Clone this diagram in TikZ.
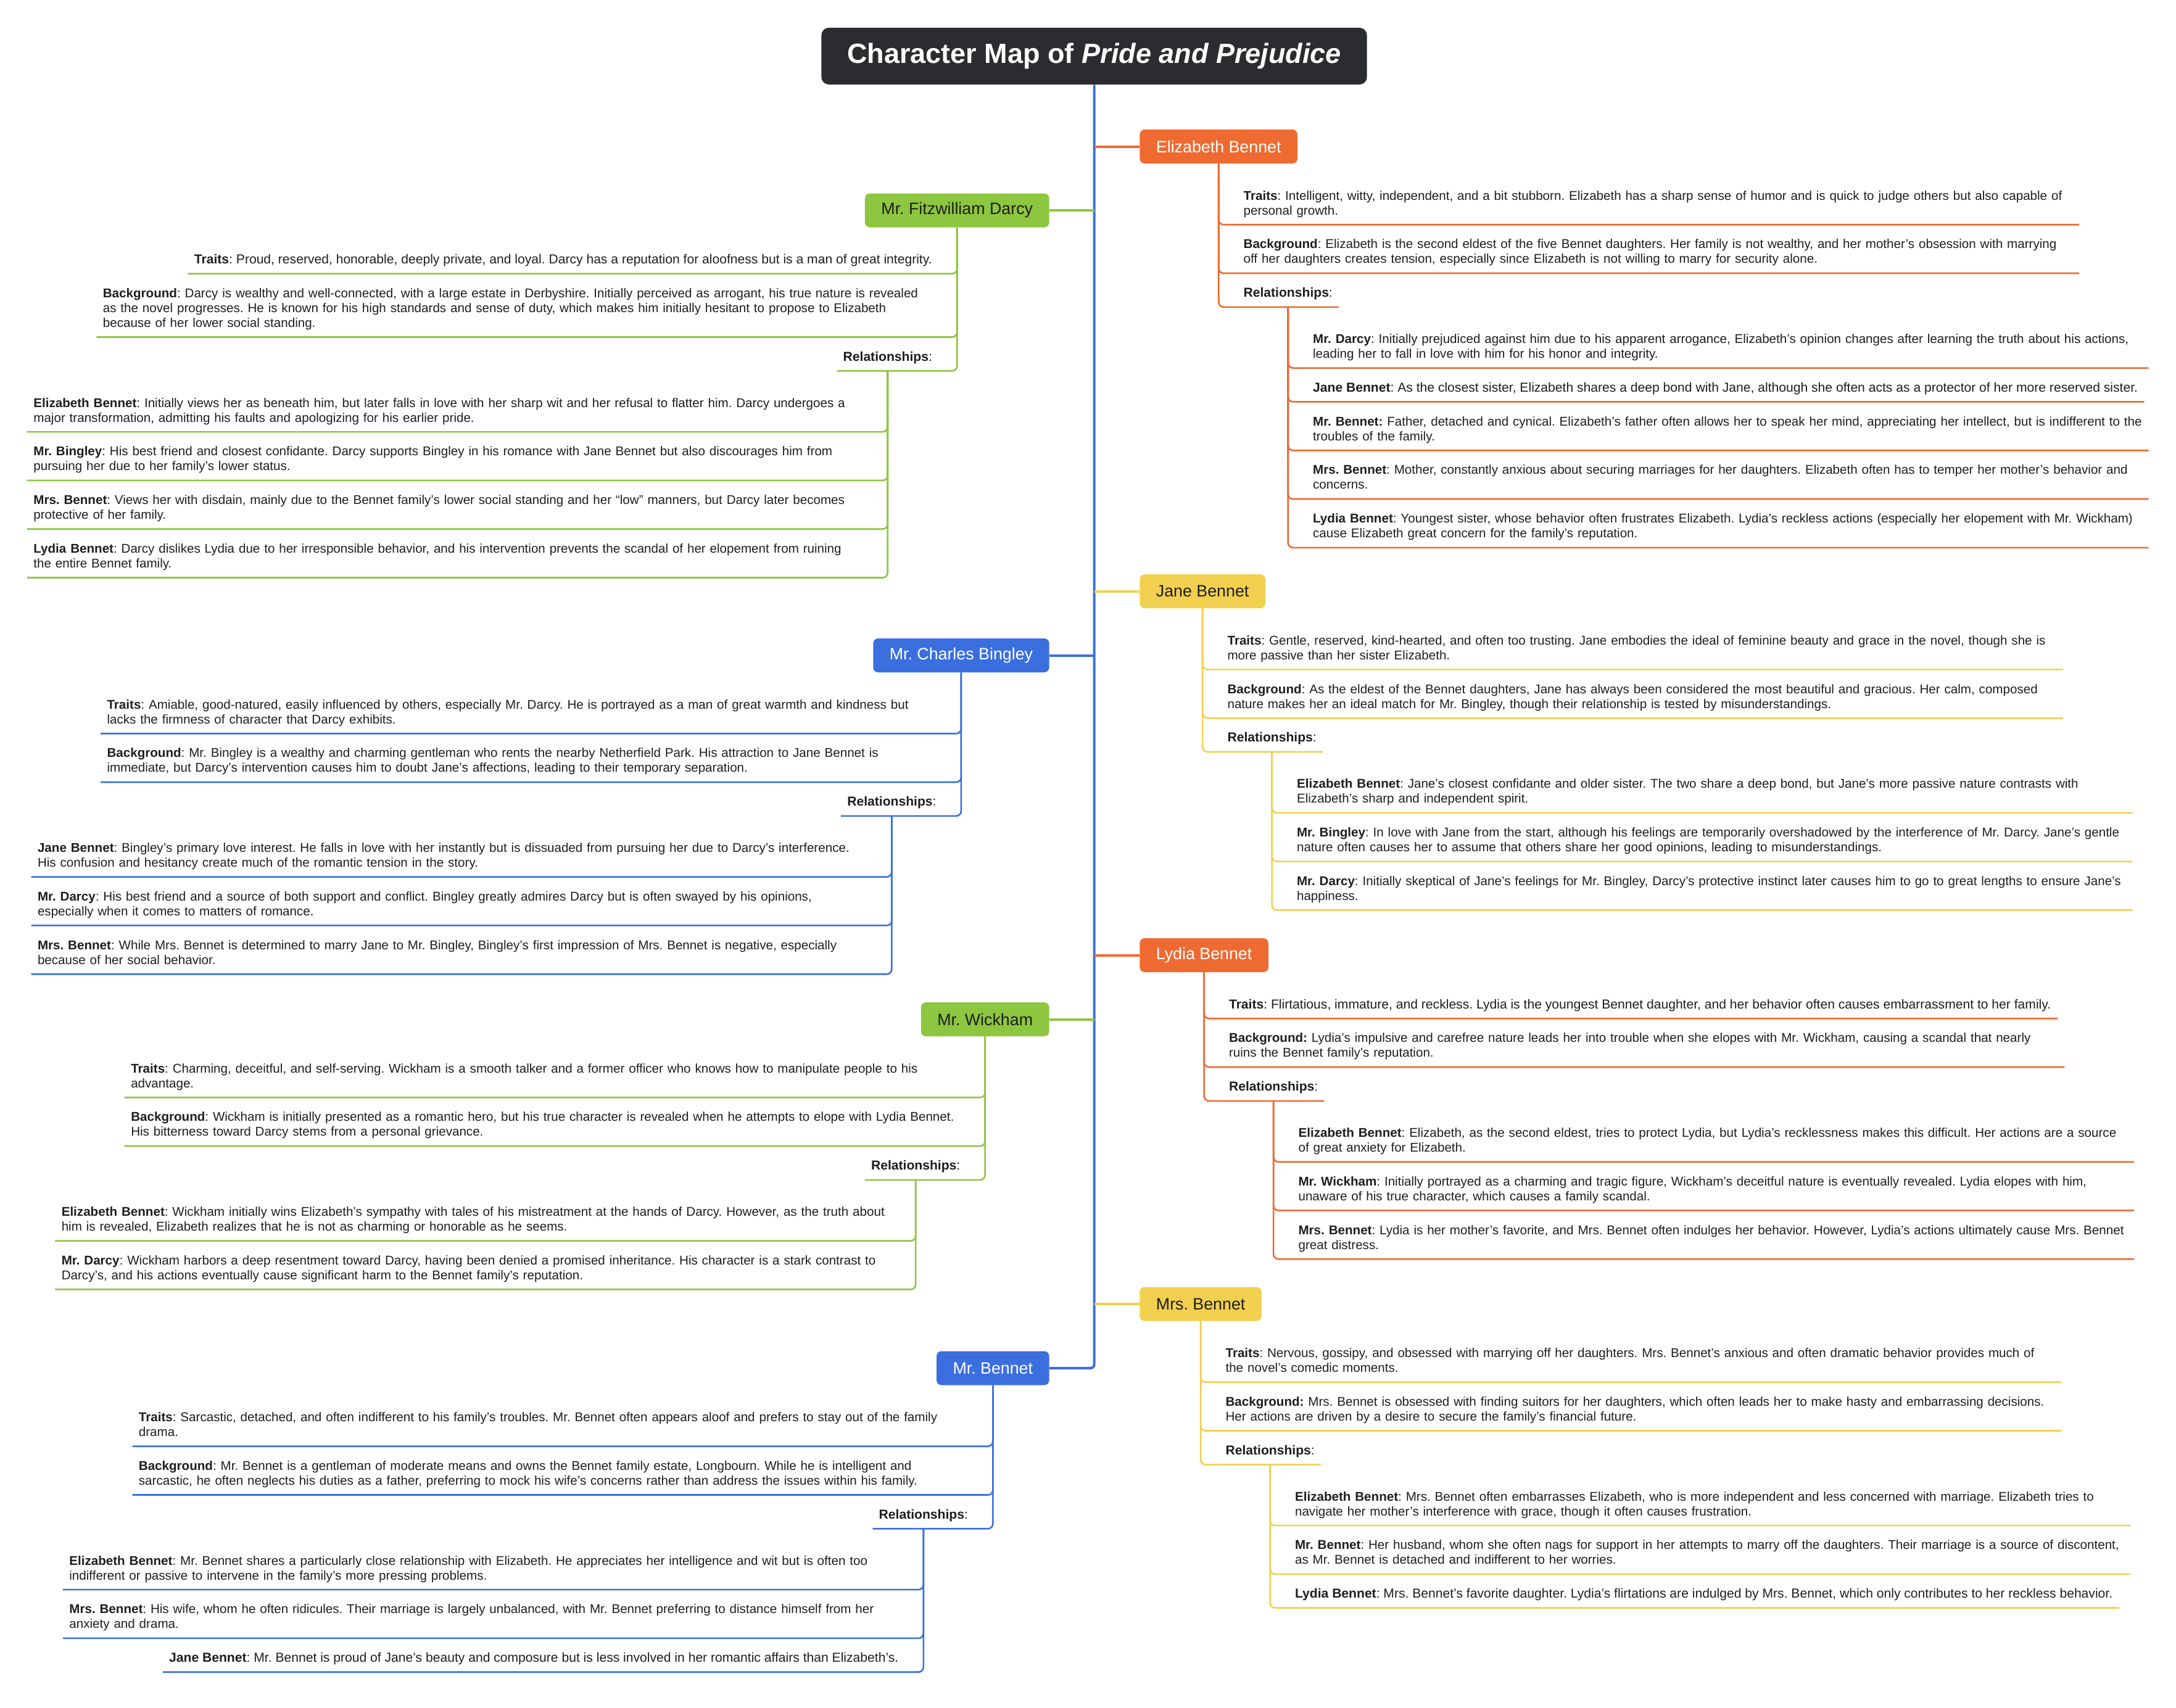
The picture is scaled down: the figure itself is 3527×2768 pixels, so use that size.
\documentclass[tikz,border=0pt]{standalone}
\usepackage{fontspec}
\setmainfont{Liberation Sans}
\usetikzlibrary{positioning}
\frenchspacing
\definecolor{cmTitle}{HTML}{2B2C30}
\definecolor{cmOrange}{HTML}{EE6A31}
\definecolor{cmYellow}{HTML}{F2D04F}
\definecolor{cmGreen}{HTML}{8DC63F}
\definecolor{cmBlue}{HTML}{3B6FE0}
\definecolor{cmText}{HTML}{1E1E1E}
\tikzset{
  charmap/.style={line join=round},
  maptitle/.style={fill=cmTitle, text=white, rounded corners=6pt, minimum height=46pt, inner xsep=21pt, font=\fontsize{22.5}{27}\selectfont\bfseries},
  person/.style={rounded corners=4pt, minimum height=27.5pt, inner xsep=13.25pt, inner ysep=0pt, text=cmText, font=\fontsize{13.4}{16}\selectfont},
  item/.style={inner xsep=5pt, inner ysep=4.25pt, text=cmText, font=\fontsize{10.55}{12}\selectfont,
    execute at begin node=\strut, execute at end node=\strut},
  wide/.style={item, text width=672pt, align=left, font=\fontsize{10.3}{12}\selectfont,
    execute at begin node={\rightskip=-12pt plus 1fil\relax\strut}},
  spine/.style={draw=cmBlue, line width=2pt, rounded corners=3pt},
  link/.style={line width=2pt},
  trunk/.style={line width=1.3pt, rounded corners=4pt},
}
\begin{document}
\begin{tikzpicture}[charmap, x=0.5pt, y=-0.5pt]
\fill[white] (0,0) rectangle (3527,2768);
\useasboundingbox (0,0) rectangle (3527,2768);

\node[maptitle] (title) at (1773.5,91) {Character Map of \textit{Pride and Prejudice}};

% personen rechts
\node[person, fill=cmOrange, text=white, anchor=west] (eliz)  at (1847,237.5) {Elizabeth Bennet};
\node[person, fill=cmYellow, anchor=west]             (jane)  at (1847,958.7) {Jane Bennet};
\node[person, fill=cmOrange, text=white, anchor=west] (lydia) at (1847,1548.5) {Lydia Bennet};
\node[person, fill=cmYellow, anchor=west]             (mrsb)  at (1847,2114) {Mrs. Bennet};
% personen links
\node[person, fill=cmGreen, anchor=east]             (darcy)   at (1701,341) {Mr. Fitzwilliam Darcy};
\node[person, fill=cmBlue, text=white, anchor=east]  (bingley) at (1701,1062.5) {Mr. Charles Bingley};
\node[person, fill=cmGreen, anchor=east]             (wickham) at (1701,1652.5) {Mr. Wickham};
\node[person, fill=cmBlue, text=white, anchor=east]  (mrb)     at (1701,2218) {Mr. Bennet};

\draw[spine] (title.south) -- (title.south |- mrb.east) -- (mrb.east);
\draw[link, cmOrange] (title.south |- eliz.west) -- (eliz.west);
\draw[link, cmYellow] (title.south |- jane.west) -- (jane.west);
\draw[link, cmOrange] (title.south |- lydia.west) -- (lydia.west);
\draw[link, cmYellow] (title.south |- mrsb.west) -- (mrsb.west);
\draw[link, cmGreen] (title.south |- darcy.east) -- (darcy.east);
\draw[link, cmBlue] (title.south |- bingley.east) -- (bingley.east);
\draw[link, cmGreen] (title.south |- wickham.east) -- (wickham.east);

% Elizabeth Bennet
\node[wide, below right=16.5pt and 15pt of eliz.south] (eT) {\textbf{Traits}: Intelligent, witty, independent, and a bit stubborn. Elizabeth has a sharp sense of humor and is quick to judge others but also capable of\\ personal growth.};
\node[wide, below=6.5pt of eT.south west, anchor=north west] (eB) {\textbf{Background}: Elizabeth is the second eldest of the five Bennet daughters. Her family is not wealthy, and her mother’s obsession with marrying\\ off her daughters creates tension, especially since Elizabeth is not willing to marry for security alone.};
\node[item, below=6.5pt of eB.south west, anchor=north west] (eR) {\textbf{Relationships}:};
\node[wide, below right=16.5pt and 15pt of eR.south] (eD) {\textbf{Mr. Darcy}: Initially prejudiced against him due to his apparent arrogance, Elizabeth’s opinion changes after learning the truth about his actions,\\ leading her to fall in love with him for his honor and integrity.};
\node[item, below=6.5pt of eD.south west, anchor=north west] (eJ) {\textbf{Jane Bennet}: As the closest sister, Elizabeth shares a deep bond with Jane, although she often acts as a protector of her more reserved sister.};
\node[wide, below=6.5pt of eJ.south west, anchor=north west] (eM) {\textbf{Mr. Bennet:} Father, detached and cynical. Elizabeth’s father often allows her to speak her mind, appreciating her intellect, but is indifferent to the\\ troubles of the family.};
\node[wide, below=6.5pt of eM.south west, anchor=north west] (eS) {\textbf{Mrs. Bennet}: Mother, constantly anxious about securing marriages for her daughters. Elizabeth often has to temper her mother’s behavior and\\ concerns.};
\node[wide, below=6.5pt of eS.south west, anchor=north west] (eL) {\textbf{Lydia Bennet}: Youngest sister, whose behavior often frustrates Elizabeth. Lydia’s reckless actions (especially her elopement with Mr. Wickham)\\ cause Elizabeth great concern for the family’s reputation.};
\foreach \n in {eT,eB,eR} \draw[trunk, cmOrange] (eliz.south) |- (\n.south east);
\foreach \n in {eD,eJ,eM,eS,eL} \draw[trunk, cmOrange] (eR.south) |- (\n.south east);

% Jane Bennet
\node[wide, below right=16.5pt and 15pt of jane.south] (jT) {\textbf{Traits}: Gentle, reserved, kind-hearted, and often too trusting. Jane embodies the ideal of feminine beauty and grace in the novel, though she is\\ more passive than her sister Elizabeth.};
\node[wide, below=6.5pt of jT.south west, anchor=north west] (jB) {\textbf{Background}: As the eldest of the Bennet daughters, Jane has always been considered the most beautiful and gracious. Her calm, composed\\ nature makes her an ideal match for Mr. Bingley, though their relationship is tested by misunderstandings.};
\node[item, below=6.5pt of jB.south west, anchor=north west] (jR) {\textbf{Relationships}:};
\node[wide, below right=16.5pt and 15pt of jR.south] (jE) {\textbf{Elizabeth Bennet}: Jane’s closest confidante and older sister. The two share a deep bond, but Jane’s more passive nature contrasts with\\ Elizabeth’s sharp and independent spirit.};
\node[wide, below=6.5pt of jE.south west, anchor=north west] (jG) {\textbf{Mr. Bingley}: In love with Jane from the start, although his feelings are temporarily overshadowed by the interference of Mr. Darcy. Jane’s gentle\\ nature often causes her to assume that others share her good opinions, leading to misunderstandings.};
\node[wide, below=6.5pt of jG.south west, anchor=north west] (jD) {\textbf{Mr. Darcy}: Initially skeptical of Jane’s feelings for Mr. Bingley, Darcy’s protective instinct later causes him to go to great lengths to ensure Jane’s\\ happiness.};
\foreach \n in {jT,jB,jR} \draw[trunk, cmYellow] (jane.south) |- (\n.south east);
\foreach \n in {jE,jG,jD} \draw[trunk, cmYellow] (jR.south) |- (\n.south east);

% Lydia Bennet
\node[item, below right=16.5pt and 15pt of lydia.south] (lT) {\textbf{Traits}: Flirtatious, immature, and reckless. Lydia is the youngest Bennet daughter, and her behavior often causes embarrassment to her family.};
\node[wide, below=6.5pt of lT.south west, anchor=north west] (lB) {\textbf{Background:} Lydia’s impulsive and carefree nature leads her into trouble when she elopes with Mr. Wickham, causing a scandal that nearly\\ ruins the Bennet family’s reputation.};
\node[item, below=6.5pt of lB.south west, anchor=north west] (lR) {\textbf{Relationships}:};
\node[wide, below right=16.5pt and 15pt of lR.south] (lE) {\textbf{Elizabeth Bennet}: Elizabeth, as the second eldest, tries to protect Lydia, but Lydia’s recklessness makes this difficult. Her actions are a source\\ of great anxiety for Elizabeth.};
\node[wide, below=6.5pt of lE.south west, anchor=north west] (lW) {\textbf{Mr. Wickham}: Initially portrayed as a charming and tragic figure, Wickham’s deceitful nature is eventually revealed. Lydia elopes with him,\\ unaware of his true character, which causes a family scandal.};
\node[wide, below=6.5pt of lW.south west, anchor=north west] (lS) {\textbf{Mrs. Bennet}: Lydia is her mother’s favorite, and Mrs. Bennet often indulges her behavior. However, Lydia’s actions ultimately cause Mrs. Bennet\\ great distress.};
\foreach \n in {lT,lB,lR} \draw[trunk, cmOrange] (lydia.south) |- (\n.south east);
\foreach \n in {lE,lW,lS} \draw[trunk, cmOrange] (lR.south) |- (\n.south east);

% Mrs. Bennet
\node[wide, below right=16.5pt and 15pt of mrsb.south] (sT) {\textbf{Traits}: Nervous, gossipy, and obsessed with marrying off her daughters. Mrs. Bennet’s anxious and often dramatic behavior provides much of\\ the novel’s comedic moments.};
\node[wide, below=6.5pt of sT.south west, anchor=north west] (sB) {\textbf{Background:} Mrs. Bennet is obsessed with finding suitors for her daughters, which often leads her to make hasty and embarrassing decisions.\\ Her actions are driven by a desire to secure the family’s financial future.};
\node[item, below=6.5pt of sB.south west, anchor=north west] (sR) {\textbf{Relationships}:};
\node[wide, below right=16.5pt and 15pt of sR.south] (sE) {\textbf{Elizabeth Bennet}: Mrs. Bennet often embarrasses Elizabeth, who is more independent and less concerned with marriage. Elizabeth tries to\\ navigate her mother’s interference with grace, though it often causes frustration.};
\node[wide, below=6.5pt of sE.south west, anchor=north west] (sM) {\textbf{Mr. Bennet}: Her husband, whom she often nags for support in her attempts to marry off the daughters. Their marriage is a source of discontent,\\ as Mr. Bennet is detached and indifferent to her worries.};
\node[item, below=6.5pt of sM.south west, anchor=north west] (sL) {\textbf{Lydia Bennet}: Mrs. Bennet’s favorite daughter. Lydia’s flirtations are indulged by Mrs. Bennet, which only contributes to her reckless behavior.};
\foreach \n in {sT,sB,sR} \draw[trunk, cmYellow] (mrsb.south) |- (\n.south east);
\foreach \n in {sE,sM,sL} \draw[trunk, cmYellow] (sR.south) |- (\n.south east);

% Mr. Fitzwilliam Darcy
\node[item, below left=16.5pt and 15pt of darcy.south] (dT) {\textbf{Traits}: Proud, reserved, honorable, deeply private, and loyal. Darcy has a reputation for aloofness but is a man of great integrity.};
\node[wide, below=6.5pt of dT.south east, anchor=north east] (dB) {\textbf{Background}: Darcy is wealthy and well-connected, with a large estate in Derbyshire. Initially perceived as arrogant, his true nature is revealed\\ as the novel progresses. He is known for his high standards and sense of duty, which makes him initially hesitant to propose to Elizabeth\\ because of her lower social standing.};
\node[item, below=6.5pt of dB.south east, anchor=north east] (dR) {\textbf{Relationships}:};
\node[wide, below left=16.5pt and 15pt of dR.south] (dE) {\textbf{Elizabeth Bennet}: Initially views her as beneath him, but later falls in love with her sharp wit and her refusal to flatter him. Darcy undergoes a\\ major transformation, admitting his faults and apologizing for his earlier pride.};
\node[wide, below=6.5pt of dE.south east, anchor=north east] (dG) {\textbf{Mr. Bingley}: His best friend and closest confidante. Darcy supports Bingley in his romance with Jane Bennet but also discourages him from\\ pursuing her due to her family’s lower status.};
\node[wide, below=6.5pt of dG.south east, anchor=north east] (dS) {\textbf{Mrs. Bennet}: Views her with disdain, mainly due to the Bennet family’s lower social standing and her “low” manners, but Darcy later becomes\\ protective of her family.};
\node[wide, below=6.5pt of dS.south east, anchor=north east] (dL) {\textbf{Lydia Bennet}: Darcy dislikes Lydia due to her irresponsible behavior, and his intervention prevents the scandal of her elopement from ruining\\ the entire Bennet family.};
\foreach \n in {dT,dB,dR} \draw[trunk, cmGreen] (darcy.south) |- (\n.south west);
\foreach \n in {dE,dG,dS,dL} \draw[trunk, cmGreen] (dR.south) |- (\n.south west);

% Mr. Charles Bingley
\node[wide, below left=16.5pt and 15pt of bingley.south] (bT) {\textbf{Traits}: Amiable, good-natured, easily influenced by others, especially Mr. Darcy. He is portrayed as a man of great warmth and kindness but\\ lacks the firmness of character that Darcy exhibits.};
\node[wide, below=6.5pt of bT.south east, anchor=north east] (bB) {\textbf{Background}: Mr. Bingley is a wealthy and charming gentleman who rents the nearby Netherfield Park. His attraction to Jane Bennet is\\ immediate, but Darcy’s intervention causes him to doubt Jane’s affections, leading to their temporary separation.};
\node[item, below=6.5pt of bB.south east, anchor=north east] (bR) {\textbf{Relationships}:};
\node[wide, below left=16.5pt and 15pt of bR.south] (bJ) {\textbf{Jane Bennet}: Bingley’s primary love interest. He falls in love with her instantly but is dissuaded from pursuing her due to Darcy’s interference.\\ His confusion and hesitancy create much of the romantic tension in the story.};
\node[wide, below=6.5pt of bJ.south east, anchor=north east] (bD) {\textbf{Mr. Darcy}: His best friend and a source of both support and conflict. Bingley greatly admires Darcy but is often swayed by his opinions,\\ especially when it comes to matters of romance.};
\node[wide, below=6.5pt of bD.south east, anchor=north east] (bS) {\textbf{Mrs. Bennet}: While Mrs. Bennet is determined to marry Jane to Mr. Bingley, Bingley’s first impression of Mrs. Bennet is negative, especially\\ because of her social behavior.};
\foreach \n in {bT,bB,bR} \draw[trunk, cmBlue] (bingley.south) |- (\n.south west);
\foreach \n in {bJ,bD,bS} \draw[trunk, cmBlue] (bR.south) |- (\n.south west);

% Mr. Wickham
\node[wide, below left=16.5pt and 15pt of wickham.south] (wT) {\textbf{Traits}: Charming, deceitful, and self-serving. Wickham is a smooth talker and a former officer who knows how to manipulate people to his\\ advantage.};
\node[wide, below=6.5pt of wT.south east, anchor=north east] (wB) {\textbf{Background}: Wickham is initially presented as a romantic hero, but his true character is revealed when he attempts to elope with Lydia Bennet.\\ His bitterness toward Darcy stems from a personal grievance.};
\node[item, below=6.5pt of wB.south east, anchor=north east] (wR) {\textbf{Relationships}:};
\node[wide, below left=16.5pt and 15pt of wR.south] (wE) {\textbf{Elizabeth Bennet}: Wickham initially wins Elizabeth’s sympathy with tales of his mistreatment at the hands of Darcy. However, as the truth about\\ him is revealed, Elizabeth realizes that he is not as charming or honorable as he seems.};
\node[wide, below=6.5pt of wE.south east, anchor=north east] (wD) {\textbf{Mr. Darcy}: Wickham harbors a deep resentment toward Darcy, having been denied a promised inheritance. His character is a stark contrast to\\ Darcy’s, and his actions eventually cause significant harm to the Bennet family’s reputation.};
\foreach \n in {wT,wB,wR} \draw[trunk, cmGreen] (wickham.south) |- (\n.south west);
\foreach \n in {wE,wD} \draw[trunk, cmGreen] (wR.south) |- (\n.south west);

% Mr. Bennet
\node[wide, below left=16.5pt and 15pt of mrb.south] (mT) {\textbf{Traits}: Sarcastic, detached, and often indifferent to his family’s troubles. Mr. Bennet often appears aloof and prefers to stay out of the family\\ drama.};
\node[wide, below=6.5pt of mT.south east, anchor=north east] (mB) {\textbf{Background}: Mr. Bennet is a gentleman of moderate means and owns the Bennet family estate, Longbourn. While he is intelligent and\\ sarcastic, he often neglects his duties as a father, preferring to mock his wife’s concerns rather than address the issues within his family.};
\node[item, below=6.5pt of mB.south east, anchor=north east] (mR) {\textbf{Relationships}:};
\node[wide, below left=16.5pt and 15pt of mR.south] (mE) {\textbf{Elizabeth Bennet}: Mr. Bennet shares a particularly close relationship with Elizabeth. He appreciates her intelligence and wit but is often too\\ indifferent or passive to intervene in the family’s more pressing problems.};
\node[wide, below=6.5pt of mE.south east, anchor=north east] (mS) {\textbf{Mrs. Bennet}: His wife, whom he often ridicules. Their marriage is largely unbalanced, with Mr. Bennet preferring to distance himself from her\\ anxiety and drama.};
\node[item, below=6.5pt of mS.south east, anchor=north east] (mJ) {\textbf{Jane Bennet}: Mr. Bennet is proud of Jane’s beauty and composure but is less involved in her romantic affairs than Elizabeth’s.};
\foreach \n in {mT,mB,mR} \draw[trunk, cmBlue] (mrb.south) |- (\n.south west);
\foreach \n in {mE,mS,mJ} \draw[trunk, cmBlue] (mR.south) |- (\n.south west);
\end{tikzpicture}
\end{document}
